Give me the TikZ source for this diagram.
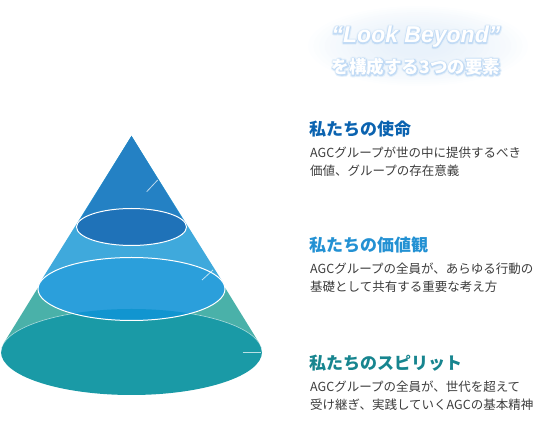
\documentclass[tikz,border=0pt]{standalone}
\usepackage{fontspec}
\setmainfont{Liberation Sans}
\newfontfamily\jp{Noto Sans CJK JP}
\usetikzlibrary{positioning}
\definecolor{topside}{HTML}{2481C4}
\definecolor{topcap}{HTML}{1F72B8}
\definecolor{midside}{HTML}{3FA9DC}
\definecolor{midcap}{HTML}{2B9FDB}
\definecolor{overlap}{HTML}{1195D0}
\definecolor{lowside}{HTML}{4AB1A9}
\definecolor{lowcap}{HTML}{1A9AA6}
\definecolor{headA}{HTML}{0B63B0}
\definecolor{headB}{HTML}{2391D3}
\definecolor{headC}{HTML}{17858F}
\definecolor{bodytext}{HTML}{3C3C3C}
\definecolor{glow}{HTML}{DCEAF8}
% white text with a soft blue halo
\newcommand\halo[1]{%
  \rlap{\special{pdf:code 2 Tr 4 w 1 J 1 j 0.90 0.94 0.98 RG}#1\special{pdf:code 0 Tr}}%
  \rlap{\special{pdf:code 2 Tr 2 w 1 J 1 j 0.76 0.86 0.96 RG}#1\special{pdf:code 0 Tr}}%
  #1}

\begin{document}
\begin{tikzpicture}[x=1pt,y=-1pt,
  ringline/.style={draw=white,line width=1pt},
  tick/.style={draw=white,opacity=0.7,line width=0.8pt},
  heading/.style={anchor=west,inner sep=0pt,font=\jp\bfseries\fontsize{17}{20}\selectfont},
  body/.style={inner sep=0pt,align=left,text=bodytext,font=\jp\fontsize{12.5}{18.6}\selectfont},
  titlefont/.style={font=\bfseries\itshape\fontsize{23}{26}\selectfont},
  subfont/.style={font=\jp\bfseries\fontsize{17.5}{20}\selectfont}]
\useasboundingbox (0,0) rectangle (550,427);
\def\rA{55pt}\def\rB{93.5pt}\def\rC{130.5pt}

% glow behind the title
\foreach \s in {1.00,0.95,...,0.2}
  \fill[glow,opacity=0.06] (418,46) ellipse [x radius=\s*110pt, y radius=\s*40pt];
\node[titlefont,text=white] (title) at (416,37) {\halo{“Look Beyond”}};
\node[subfont,text=white] (subtitle) at (416,67) {\halo{を構成する3つの要素}};

% lower part
\fill[lowside] (131.5,136) -- (3.6,343.4) -- (259.4,343.4) -- cycle;
\fill[lowcap] (131.5,352) ellipse [x radius=\rC, y radius=43pt];
\draw[white,opacity=0.6,line width=0.6pt] (1,352) arc [start angle=180, end angle=0, x radius=\rC, y radius=43pt];

% middle part
\fill[midside] (131.5,136) -- (40,282.5) -- (223,282.5) -- cycle;
\fill[midcap] (131.5,289) ellipse [x radius=\rB, y radius=31.5pt];
\begin{scope}
  \clip (131.5,289) ellipse [x radius=\rB, y radius=31.5pt];
  \fill[overlap] (131.5,352) ellipse [x radius=\rC, y radius=43pt];
\end{scope}
\draw[ringline] (131.5,289) ellipse [x radius=\rB, y radius=31.5pt];

% top part
\fill[topside] (131.5,136) -- (77.65,223.2) -- (185.35,223.2) -- cycle;
\fill[topcap,ringline] (131.5,227) ellipse [x radius=\rA, y radius=18.5pt];

% small marks
\draw[tick] (146.7,191.7) -- (157.7,180);
\draw[tick] (202,280) -- (213,270);
\draw[tick] (242.7,352) -- (261,352);

% texts
\node[heading,text=headA] (mission) at (309,129) {私たちの使命};
\node[body,below right=9pt and 1pt of mission.south west] (missiontext)
  {AGCグループが世の中に提供するべき\\価値、グループの存在意義};
\node[heading,text=headB] (values) at (309,245) {私たちの価値観};
\node[body,below right=9pt and 1pt of values.south west] (valuestext)
  {AGCグループの全員が、あらゆる行動の\\基礎として共有する重要な考え方};
\node[heading,text=headC] (spirit) at (309,363) {私たちのスピリット};
\node[body,below right=9pt and 1pt of spirit.south west] (spirittext)
  {AGCグループの全員が、世代を超えて\\受け継ぎ、実践していくAGCの基本精神};

\end{tikzpicture}
\end{document}
